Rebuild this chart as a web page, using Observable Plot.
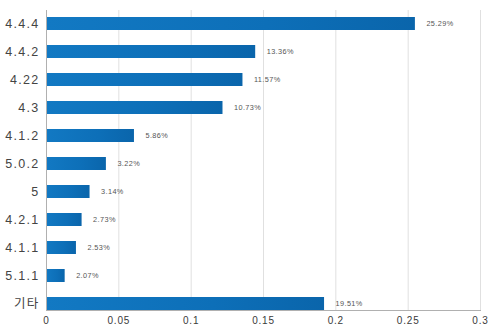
<!DOCTYPE html>
<html><head><meta charset="utf-8">
<script src="https://cdn.jsdelivr.net/npm/d3@7"></script>
<script src="https://cdn.jsdelivr.net/npm/@observablehq/plot@0.6"></script>
<style>body{margin:0;background:#fff}</style>
</head><body><div id="chart"></div>
<script>
const categories = ["4.4.4","4.4.2","4.22","4.3","4.1.2","5.0.2","5","4.2.1","4.1.1","5.1.1","기타"];
const barValues = [0.255,0.1446,0.1358,0.122,0.0608,0.0414,0.0301,0.0246,0.0207,0.0129,0.1922];
const valueLabels = ["25.29%","13.36%","11.57%","10.73%","5.86%","3.22%","3.14%","2.73%","2.53%","2.07%","19.51%"];
const xTicks = [0,0.05,0.1,0.15,0.2,0.25,0.3];
const xTickLabels = ["0","0.05","0.1","0.15","0.2","0.25","0.3"];

const data = categories.map((c,i)=>({cat:c, value:barValues[i], label:valueLabels[i]}));

const plot = Plot.plot({
  width:500, height:329,
  marginLeft:46, marginRight:20, marginTop:10, marginBottom:19,
  style:{fontFamily:"'Liberation Sans','Noto Sans CJK KR',sans-serif", background:"#fff"},
  x:{domain:[0,0.3], label:null},
  y:{domain:categories, range:[16,310], paddingInner:0.54, paddingOuter:0, label:null},
  marks:[
    Plot.gridX(xTicks, {stroke:"#e0e0e0", strokeOpacity:1}),
    Plot.barX(data, {x:"value", y:"cat", fill:"#0d70b9"}),
    Plot.ruleX([0], {stroke:"#b0b0b0"}),
    Plot.frame({anchor:"bottom", stroke:"#b0b0b0"}),
    Plot.text(data, {x:"value", y:"cat", text:"label", dx:11, textAnchor:"start", fontSize:7.3, fill:"#555"}),
    Plot.axisX({ticks:xTicks, tickFormat:d=>xTickLabels[xTicks.indexOf(d)], tickSize:0, tickPadding:6, fontSize:10, fill:"#3a3a3a", label:null}),
    Plot.axisY({tickSize:0, tickPadding:7, fontSize:12.5, fill:"#444", label:null})
  ]
});
document.getElementById("chart").appendChild(plot);

// horizontal gradient for the bars
const ns = "http://www.w3.org/2000/svg";
const defs = document.createElementNS(ns, "defs");
const grad = document.createElementNS(ns, "linearGradient");
grad.setAttribute("id", "barGrad");
grad.setAttribute("x1","0"); grad.setAttribute("x2","1"); grad.setAttribute("y1","0"); grad.setAttribute("y2","0");
[["0","#1279c3"],["0.6","#0d6fb8"],["1","#0a65ab"]].forEach(([o,c])=>{
  const s = document.createElementNS(ns,"stop");
  s.setAttribute("offset",o); s.setAttribute("stop-color",c); grad.appendChild(s);
});
defs.appendChild(grad);
plot.insertBefore(defs, plot.firstChild);
const barG = plot.querySelector('g[aria-label="bar"]');
if (barG) barG.setAttribute("fill","url(#barGrad)");
const yLabels = plot.querySelector('g[aria-label="y-axis tick label"]');
if (yLabels) yLabels.style.letterSpacing = "1.3px";
const xLabels = plot.querySelector('g[aria-label="x-axis tick label"]');
if (xLabels) xLabels.style.letterSpacing = "0.8px";
plot.querySelectorAll('g[aria-label="text"]').forEach(g=>g.style.letterSpacing="0.4px");
</script>
</body></html>
